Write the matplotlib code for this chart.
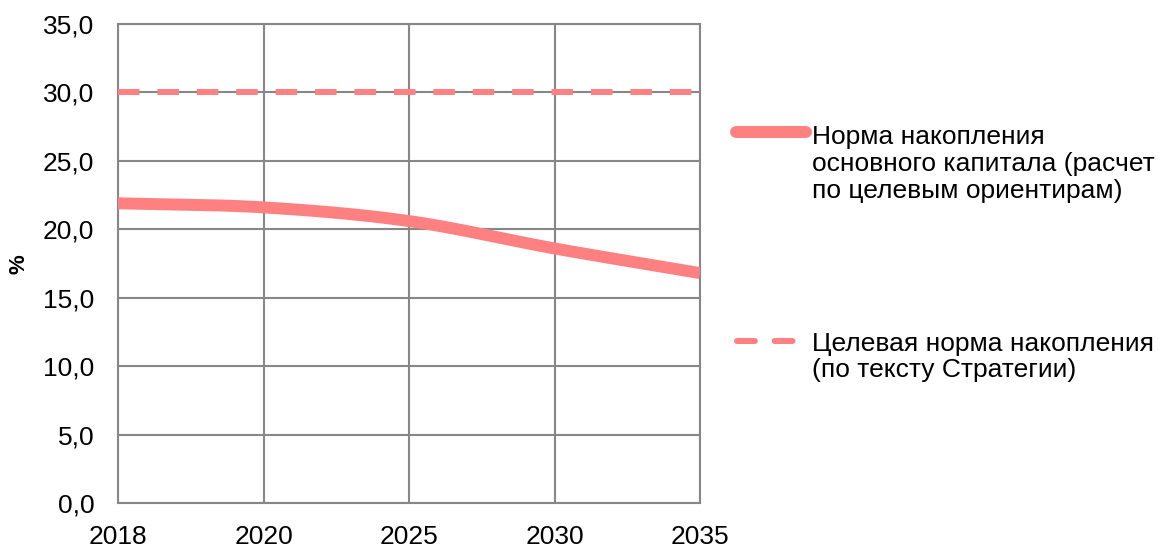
import numpy as np
import matplotlib
matplotlib.use("Agg")
import matplotlib.pyplot as plt
from matplotlib.lines import Line2D

plt.rcParams['font.family'] = ['Liberation Sans', 'DejaVu Sans']

years = ["2018", "2020", "2025", "2030", "2035"]
norm_calc = [21.9, 21.6, 20.6, 18.6, 16.8]
norm_target = [30.0, 30.0, 30.0, 30.0, 30.0]
y_ticks = [0, 5, 10, 15, 20, 25, 30, 35]
label_calc = "Норма накопления\nосновного капитала (расчет\nпо целевым ориентирам)"
label_target = "Целевая норма накопления\n(по тексту Стратегии)"

COLOR = "#FF8080"
GRID = "#878787"
FS = 19


def catmull_rom(x, y, n=40):
    x = np.asarray(x, float)
    y = np.asarray(y, float)
    px = np.concatenate([[2 * x[0] - x[1]], x, [2 * x[-1] - x[-2]]])
    py = np.concatenate([[2 * y[0] - y[1]], y, [2 * y[-1] - y[-2]]])
    xs, ys = [], []
    for i in range(1, len(px) - 2):
        t = np.linspace(0, 1, n, endpoint=(i == len(px) - 3))
        for P, out in ((px, xs), (py, ys)):
            p0, p1, p2, p3 = P[i - 1], P[i], P[i + 1], P[i + 2]
            out.append(0.5 * ((2 * p1) + (-p0 + p2) * t +
                              (2 * p0 - 5 * p1 + 4 * p2 - p3) * t ** 2 +
                              (-p0 + 3 * p1 - 3 * p2 + p3) * t ** 3))
    return np.concatenate(xs), np.concatenate(ys)


fig = plt.figure(figsize=(11.62, 5.47), dpi=100)
ax = fig.add_axes([118 / 1162, 1 - 503 / 547, (700 - 118) / 1162, (503 - 24) / 547])

xi = np.arange(len(years))
ax.plot(xi, norm_target, color=COLOR, lw=4.3, dashes=(3.6, 3.0),
        solid_capstyle='butt', dash_capstyle='butt', zorder=3)
sx, sy = catmull_rom(xi, norm_calc)
ax.plot(sx, sy, color=COLOR, lw=8.6, solid_capstyle='butt', zorder=4)

ax.set_xlim(0, len(years) - 1)
ax.set_ylim(0, 35)
ax.set_xticks(xi)
ax.set_xticklabels(years, fontsize=FS)
ax.set_yticks(y_ticks)
ax.set_yticklabels([f"{v:.1f}".replace('.', ',') for v in y_ticks], fontsize=FS)
ax.tick_params(length=0)
ax.tick_params(axis='y', pad=17)
ax.tick_params(axis='x', pad=16)
ax.grid(True, color=GRID, lw=1.5)
ax.set_axisbelow(True)
for s in ax.spines.values():
    s.set_color(GRID)
    s.set_linewidth(1.5)

fig.text(19 / 1162, 1 - 264 / 547, "%", rotation=90, fontsize=16, fontweight='bold',
         ha='center', va='center')

# legend
fig.add_artist(Line2D([736 / 1162, 806 / 1162], [1 - 132 / 547] * 2, color=COLOR, lw=8.6,
                      solid_capstyle='round', transform=fig.transFigure))
fig.add_artist(Line2D([737 / 1162, 797 / 1162], [1 - 341 / 547] * 2, color=COLOR, lw=4.3,
                      dashes=(3.0, 3.3), dash_capstyle='round', transform=fig.transFigure))
fig.text(812 / 1162, 1 - 164 / 547, label_calc, fontsize=FS, ha='left', va='center',
         linespacing=1.15)
fig.text(812 / 1162, 1 - 357 / 547, label_target, fontsize=FS, ha='left', va='center',
         linespacing=1.15)

fig.savefig("out.png", dpi=100)
